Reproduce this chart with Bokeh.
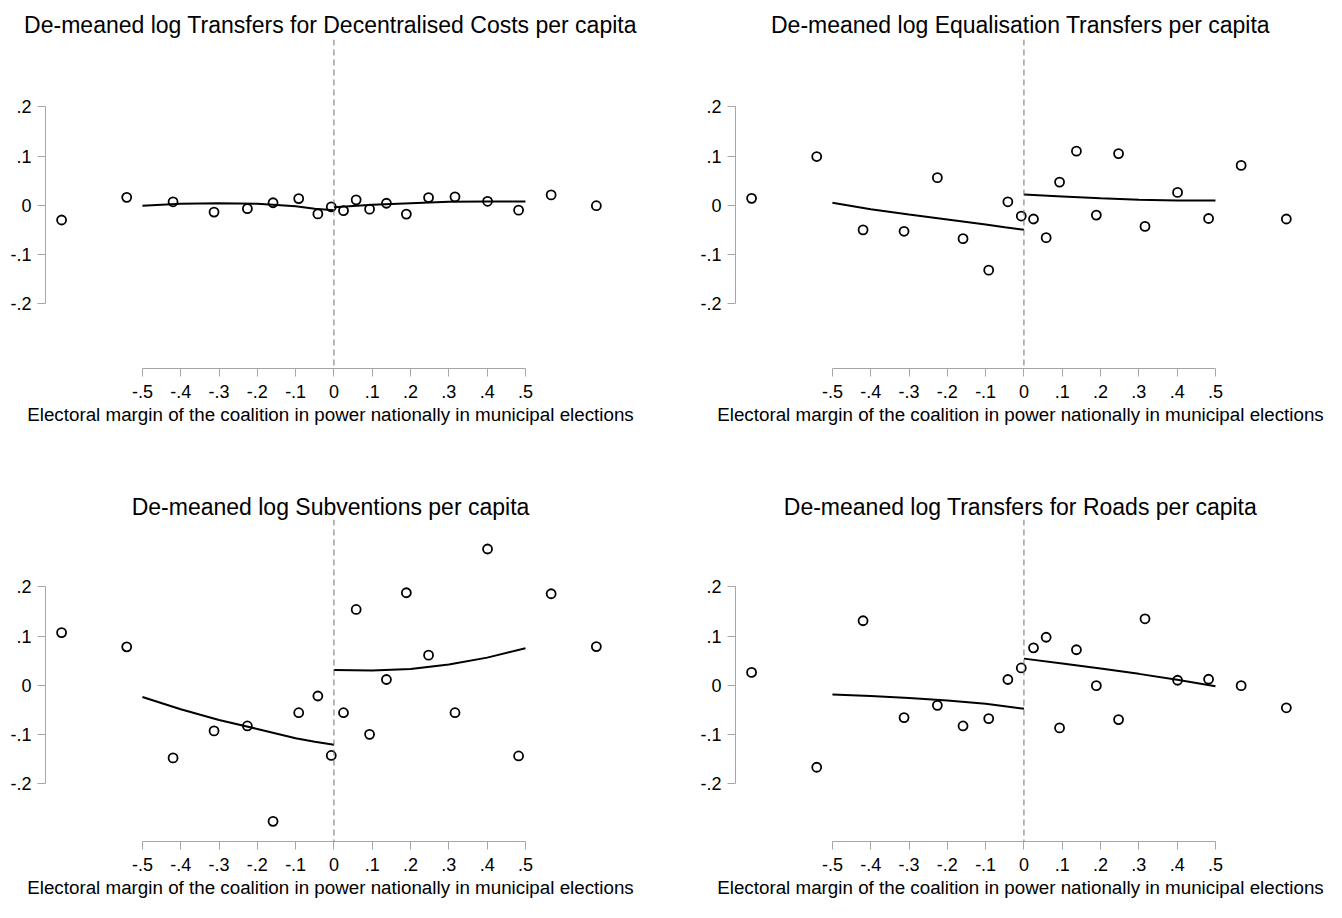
from bokeh.plotting import figure
from bokeh.models import Span, FixedTicker, Range1d
from bokeh.layouts import column, row
from bokeh.embed import file_html
from bokeh.resources import INLINE

titles = [
    "De-meaned log Transfers for Decentralised Costs per capita",
    "De-meaned log Equalisation Transfers per capita",
    "De-meaned log Subventions per capita",
    "De-meaned log Transfers for Roads per capita",
]
x_title = "Electoral margin of the coalition in power nationally in municipal elections"

# bin midpoints (same for every panel)
bins_x = [-0.711, -0.541, -0.420, -0.313, -0.226, -0.159, -0.092, -0.042, -0.007, 0.025,
          0.058, 0.093, 0.137, 0.189, 0.247, 0.316, 0.401, 0.482, 0.567, 0.685]

dc_y = [-0.030, 0.016, 0.007, -0.014, -0.007, 0.005, 0.0135, -0.0176, -0.0034, -0.011,
        0.011, -0.008, 0.004, -0.018, 0.0155, 0.017, 0.008, -0.010, 0.021, -0.001]
eq_y = [0.014, 0.099, -0.050, -0.053, 0.056, -0.068, -0.132, 0.007, -0.022, -0.028,
        -0.066, 0.047, 0.110, -0.020, 0.105, -0.043, 0.026, -0.027, 0.081, -0.028]
sub_y = [0.107, 0.078, -0.148, -0.093, -0.083, -0.277, -0.056, -0.022, -0.143, -0.056,
         0.154, -0.100, 0.0115, 0.188, 0.061, -0.056, 0.277, -0.144, 0.186, 0.0785]
rd_y = [0.026, -0.167, 0.131, -0.066, -0.041, -0.083, -0.068, 0.0115, 0.035, 0.076,
        0.0975, -0.087, 0.072, -0.001, -0.070, 0.135, 0.010, 0.012, -0.001, -0.046]

# fitted lines, left and right of the threshold
fit_left_x = [-0.5, -0.4, -0.3, -0.2, -0.1, -0.05, 0.0]
fit_right_x = [0.0, 0.1, 0.2, 0.3, 0.4, 0.5]
dc_fit_l = [-0.001, 0.003, 0.004, 0.003, -0.002, -0.007, -0.010]
dc_fit_r = [-0.004, 0.001, 0.004, 0.007, 0.0075, 0.0075]
eq_fit_l = [0.005, -0.008, -0.019, -0.029, -0.039, -0.045, -0.050]
eq_fit_r = [0.022, 0.018, 0.014, 0.011, 0.0095, 0.0095]
sub_fit_l = [-0.024, -0.049, -0.071, -0.089, -0.108, -0.115, -0.121]
sub_fit_r = [0.031, 0.030, 0.033, 0.042, 0.056, 0.075]
rd_fit_l = [-0.019, -0.022, -0.026, -0.031, -0.038, -0.043, -0.048]
rd_fit_r = [0.054, 0.044, 0.034, 0.023, 0.011, -0.002]

x_ticks = [-0.5, -0.4, -0.3, -0.2, -0.1, 0.0, 0.1, 0.2, 0.3, 0.4, 0.5]
x_tick_labels = ["-.5", "-.4", "-.3", "-.2", "-.1", "0", ".1", ".2", ".3", ".4", ".5"]
y_ticks = [-0.2, -0.1, 0.0, 0.1, 0.2]
y_tick_labels = ["-.2", "-.1", "0", ".1", ".2"]

FONT = "Liberation Sans"
AX = "#a6a6a6"


def panel(title, ys, fl, fr, width, height, bl, br, bt, bb, toff, ymin, tstand):
    p = figure(width=width, height=height,
               x_range=Range1d(-0.753, 0.735), y_range=Range1d(ymin, 0.337),
               output_backend="svg", toolbar_location=None,
               min_border_left=bl, min_border_right=br,
               min_border_top=bt, min_border_bottom=bb)
    p.outline_line_color = None
    p.grid.visible = False
    p.background_fill_color = "white"
    p.border_fill_color = "white"

    p.title.text = title
    p.title.align = "center"
    p.title.offset = toff
    p.title.text_font = FONT
    p.title.text_font_size = "23px"
    p.title.text_font_style = "normal"
    p.title.text_color = "black"
    p.title.standoff = tstand

    xa = p.xaxis[0]
    xa.ticker = FixedTicker(ticks=x_ticks)
    xa.major_label_overrides = dict(zip(x_ticks, x_tick_labels))
    xa.bounds = (-0.5, 0.5)
    xa.axis_label = x_title
    ya = p.yaxis[0]
    ya.ticker = FixedTicker(ticks=y_ticks)
    ya.major_label_overrides = dict(zip(y_ticks, y_tick_labels))
    ya.bounds = (-0.2, 0.2)
    for ax in (xa, ya):
        ax.axis_line_color = AX
        ax.axis_line_width = 1
        ax.major_tick_line_color = AX
        ax.major_tick_out = 8
        ax.major_tick_in = 0
        ax.minor_tick_line_color = None
        ax.major_label_text_font = FONT
        ax.major_label_text_font_size = "18px"
        ax.major_label_text_color = "black"
        ax.axis_label_text_font = FONT
        ax.axis_label_text_font_size = "18.8px"
        ax.axis_label_text_font_style = "normal"
        ax.axis_label_text_color = "black"
    xa.major_label_standoff = 8
    xa.axis_label_standoff = 3
    ya.major_label_standoff = 6

    p.add_layout(Span(location=0, dimension="height", line_color="#707070",
                      line_dash="6 4", line_width=1))
    p.line(fit_left_x, fl, line_color="black", line_width=2)
    p.line(fit_right_x, fr, line_color="black", line_width=2)
    p.scatter(bins_x, ys, marker="circle", size=9, fill_color=None,
              line_color="black", line_width=1.8)
    return p


p1 = panel(titles[0], dc_y, dc_fit_l, dc_fit_r, 663, 445, 45, 48, 39, 77, 7, -0.332, 3)
p2 = panel(titles[1], eq_y, eq_fit_l, eq_fit_r, 663, 445, 72, 21, 39, 77, 10, -0.332, 3)
p3 = panel(titles[2], sub_y, sub_fit_l, sub_fit_r, 663, 457, 45, 48, 74, 61, 8, -0.318, 0)
p4 = panel(titles[3], rd_y, rd_fit_l, rd_fit_r, 663, 457, 72, 21, 74, 61, 10, -0.318, 0)

layout = column(row(p1, p2), row(p3, p4))
open("out.html", "w").write(file_html(layout, INLINE))
